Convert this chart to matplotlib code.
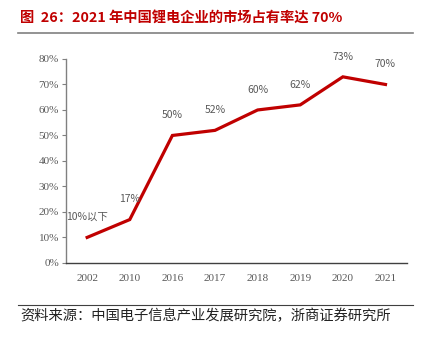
import matplotlib
matplotlib.use('Agg')
import matplotlib.pyplot as plt
from matplotlib.lines import Line2D
from matplotlib.ticker import FuncFormatter

plt.rcParams['font.family'] = ['Noto Sans CJK SC', 'DejaVu Sans']

years = ['2002', '2010', '2016', '2017', '2018', '2019', '2020', '2021']
share = [10, 17, 50, 52, 60, 62, 73, 70]
labels = ['10%以下', '17%', '50%', '52%', '60%', '62%', '73%', '70%']

title = '图  26：2021 年中国锂电企业的市场占有率达 70%'
source = '资料来源：中国电子信息产业发展研究院，浙商证券研究所'

fig = plt.figure(figsize=(4.36, 3.41), dpi=100)
ax = fig.add_axes([0.151, 0.229, 0.782, 0.598])

x = range(len(years))
ax.plot(x, share, color='#C00000', lw=2.3, solid_joinstyle='miter')
for xi, yi, lab in zip(x, share, labels):
    ax.annotate(lab, (xi, yi), xytext=(0, 11), textcoords='offset points',
                ha='center', va='bottom', fontsize=7.5, color='#595959')

ax.set_xlim(-0.5, 7.5)
ax.set_ylim(0, 80)
ax.set_yticks(range(0, 81, 10))
ax.yaxis.set_major_formatter(FuncFormatter(lambda v, p: '%d%%' % v))
ax.set_xticks(list(x))
ax.set_xticklabels(years)
for t in ax.get_xticklabels() + ax.get_yticklabels():
    t.set_family('Liberation Serif')
    t.set_fontsize(8)
    t.set_color('#595959')
ax.tick_params(axis='x', length=0, pad=8)
ax.tick_params(axis='y', length=3, width=0.8, color='#808080', pad=2)
ax.spines['top'].set_visible(False)
ax.spines['right'].set_visible(False)
ax.spines['left'].set_color('#808080')
ax.spines['bottom'].set_color('#404040')
ax.spines['left'].set_linewidth(1.0)
ax.spines['bottom'].set_linewidth(1.0)

fig.text(0.046, 0.948, title, fontsize=10.3, fontweight='bold', color='#C00000',
         va='center', ha='left')
fig.add_artist(Line2D([0.042, 0.948], [0.903, 0.903], color='#808080', lw=1.2))
fig.add_artist(Line2D([0.042, 0.948], [0.106, 0.106], color='#404040', lw=0.8))
fig.text(0.046, 0.073, source, fontsize=10.3, color='#222222', va='center', ha='left')

fig.savefig('out.png', dpi=100)
